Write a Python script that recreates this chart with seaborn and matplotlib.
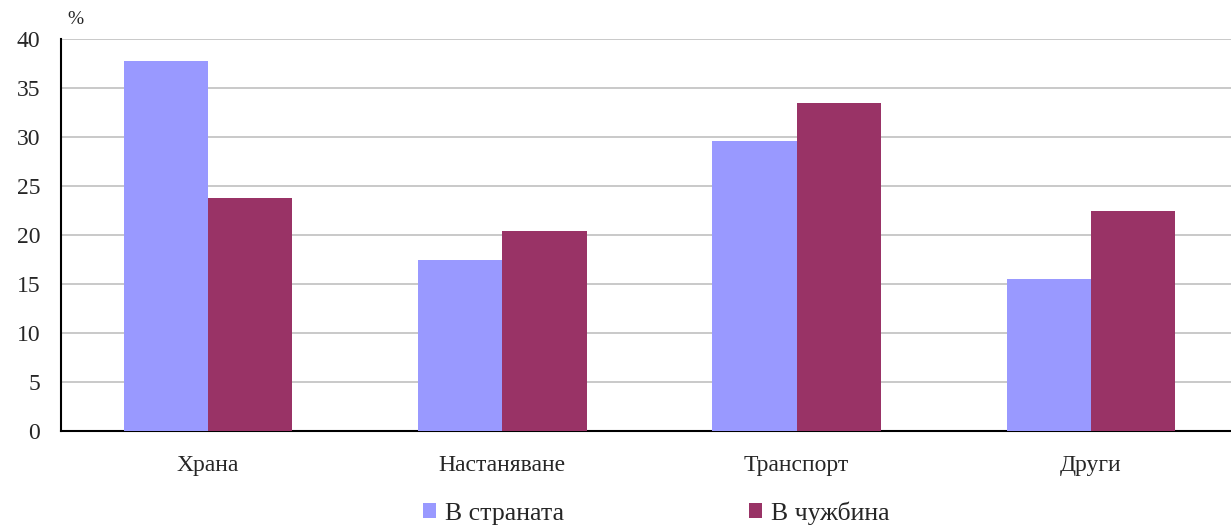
import matplotlib
matplotlib.use("Agg")
import matplotlib.pyplot as plt
import seaborn as sns
import pandas as pd

categories = ["Храна", "Настаняване", "Транспорт", "Други"]
series_names = ["В страната", "В чужбина"]
domestic = [37.8, 17.4, 29.6, 15.5]
abroad = [23.8, 20.4, 33.5, 22.4]
y_ticks = [0, 5, 10, 15, 20, 25, 30, 35, 40]

df = pd.DataFrame({
    "category": categories * 2,
    "series": [series_names[0]] * 4 + [series_names[1]] * 4,
    "value": domestic + abroad,
})

sns.set_style("white")
plt.rcParams["font.family"] = ["Liberation Serif", "DejaVu Serif"]

fig = plt.figure(figsize=(12.31, 5.25), dpi=100)
ax = fig.add_axes([61 / 1231, 1 - 431 / 525, (1238 - 61) / 1231, (431 - 39) / 525])

sns.barplot(data=df, x="category", y="value", hue="series", order=categories,
            hue_order=series_names, palette=["#9999FF", "#993366"],
            width=0.572, gap=0, linewidth=0, saturation=1, ax=ax, zorder=3)

ax.set_ylim(0, 40)
ax.set_xlim(-0.5, 3.5)
ax.set_yticks(y_ticks)
ax.set_yticklabels([str(t) for t in y_ticks], fontsize=17)
ax.yaxis.grid(True, color="#c0c0c0", linewidth=1.2, zorder=0)
ax.set_axisbelow(True)

# category labels on minor ticks, tick marks on boundaries
ax.set_xticks([-0.5, 0.5, 1.5, 2.5, 3.5])
ax.set_xticklabels([])
ax.set_xticks(range(len(categories)), minor=True)
ax.set_xticklabels(categories, minor=True, fontsize=17)
ax.tick_params(axis="x", which="minor", length=0, pad=17)
ax.tick_params(axis="x", which="major", length=5, width=1, color="black", direction="out")
ax.tick_params(axis="y", length=6, width=1, color="black", direction="out", pad=9)
ax.set_xlabel("")
ax.set_ylabel("")

for s in ["top", "right"]:
    ax.spines[s].set_visible(False)
for s in ["left", "bottom"]:
    ax.spines[s].set_color("black")
    ax.spines[s].set_linewidth(1.5)

fig.text(67 / 1231, 1 - 20 / 525, "%", fontsize=14, va="center")

ax.legend_.remove()
handles, labels = ax.get_legend_handles_labels()
fig.legend(handles, labels, loc="center", bbox_to_anchor=(656 / 1231, 1 - 513 / 525),
           ncol=2, frameon=False, fontsize=18.5, handlelength=0.5, handleheight=0.5,
           handletextpad=0.35, columnspacing=7.2)

fig.savefig("out.png", dpi=100)
